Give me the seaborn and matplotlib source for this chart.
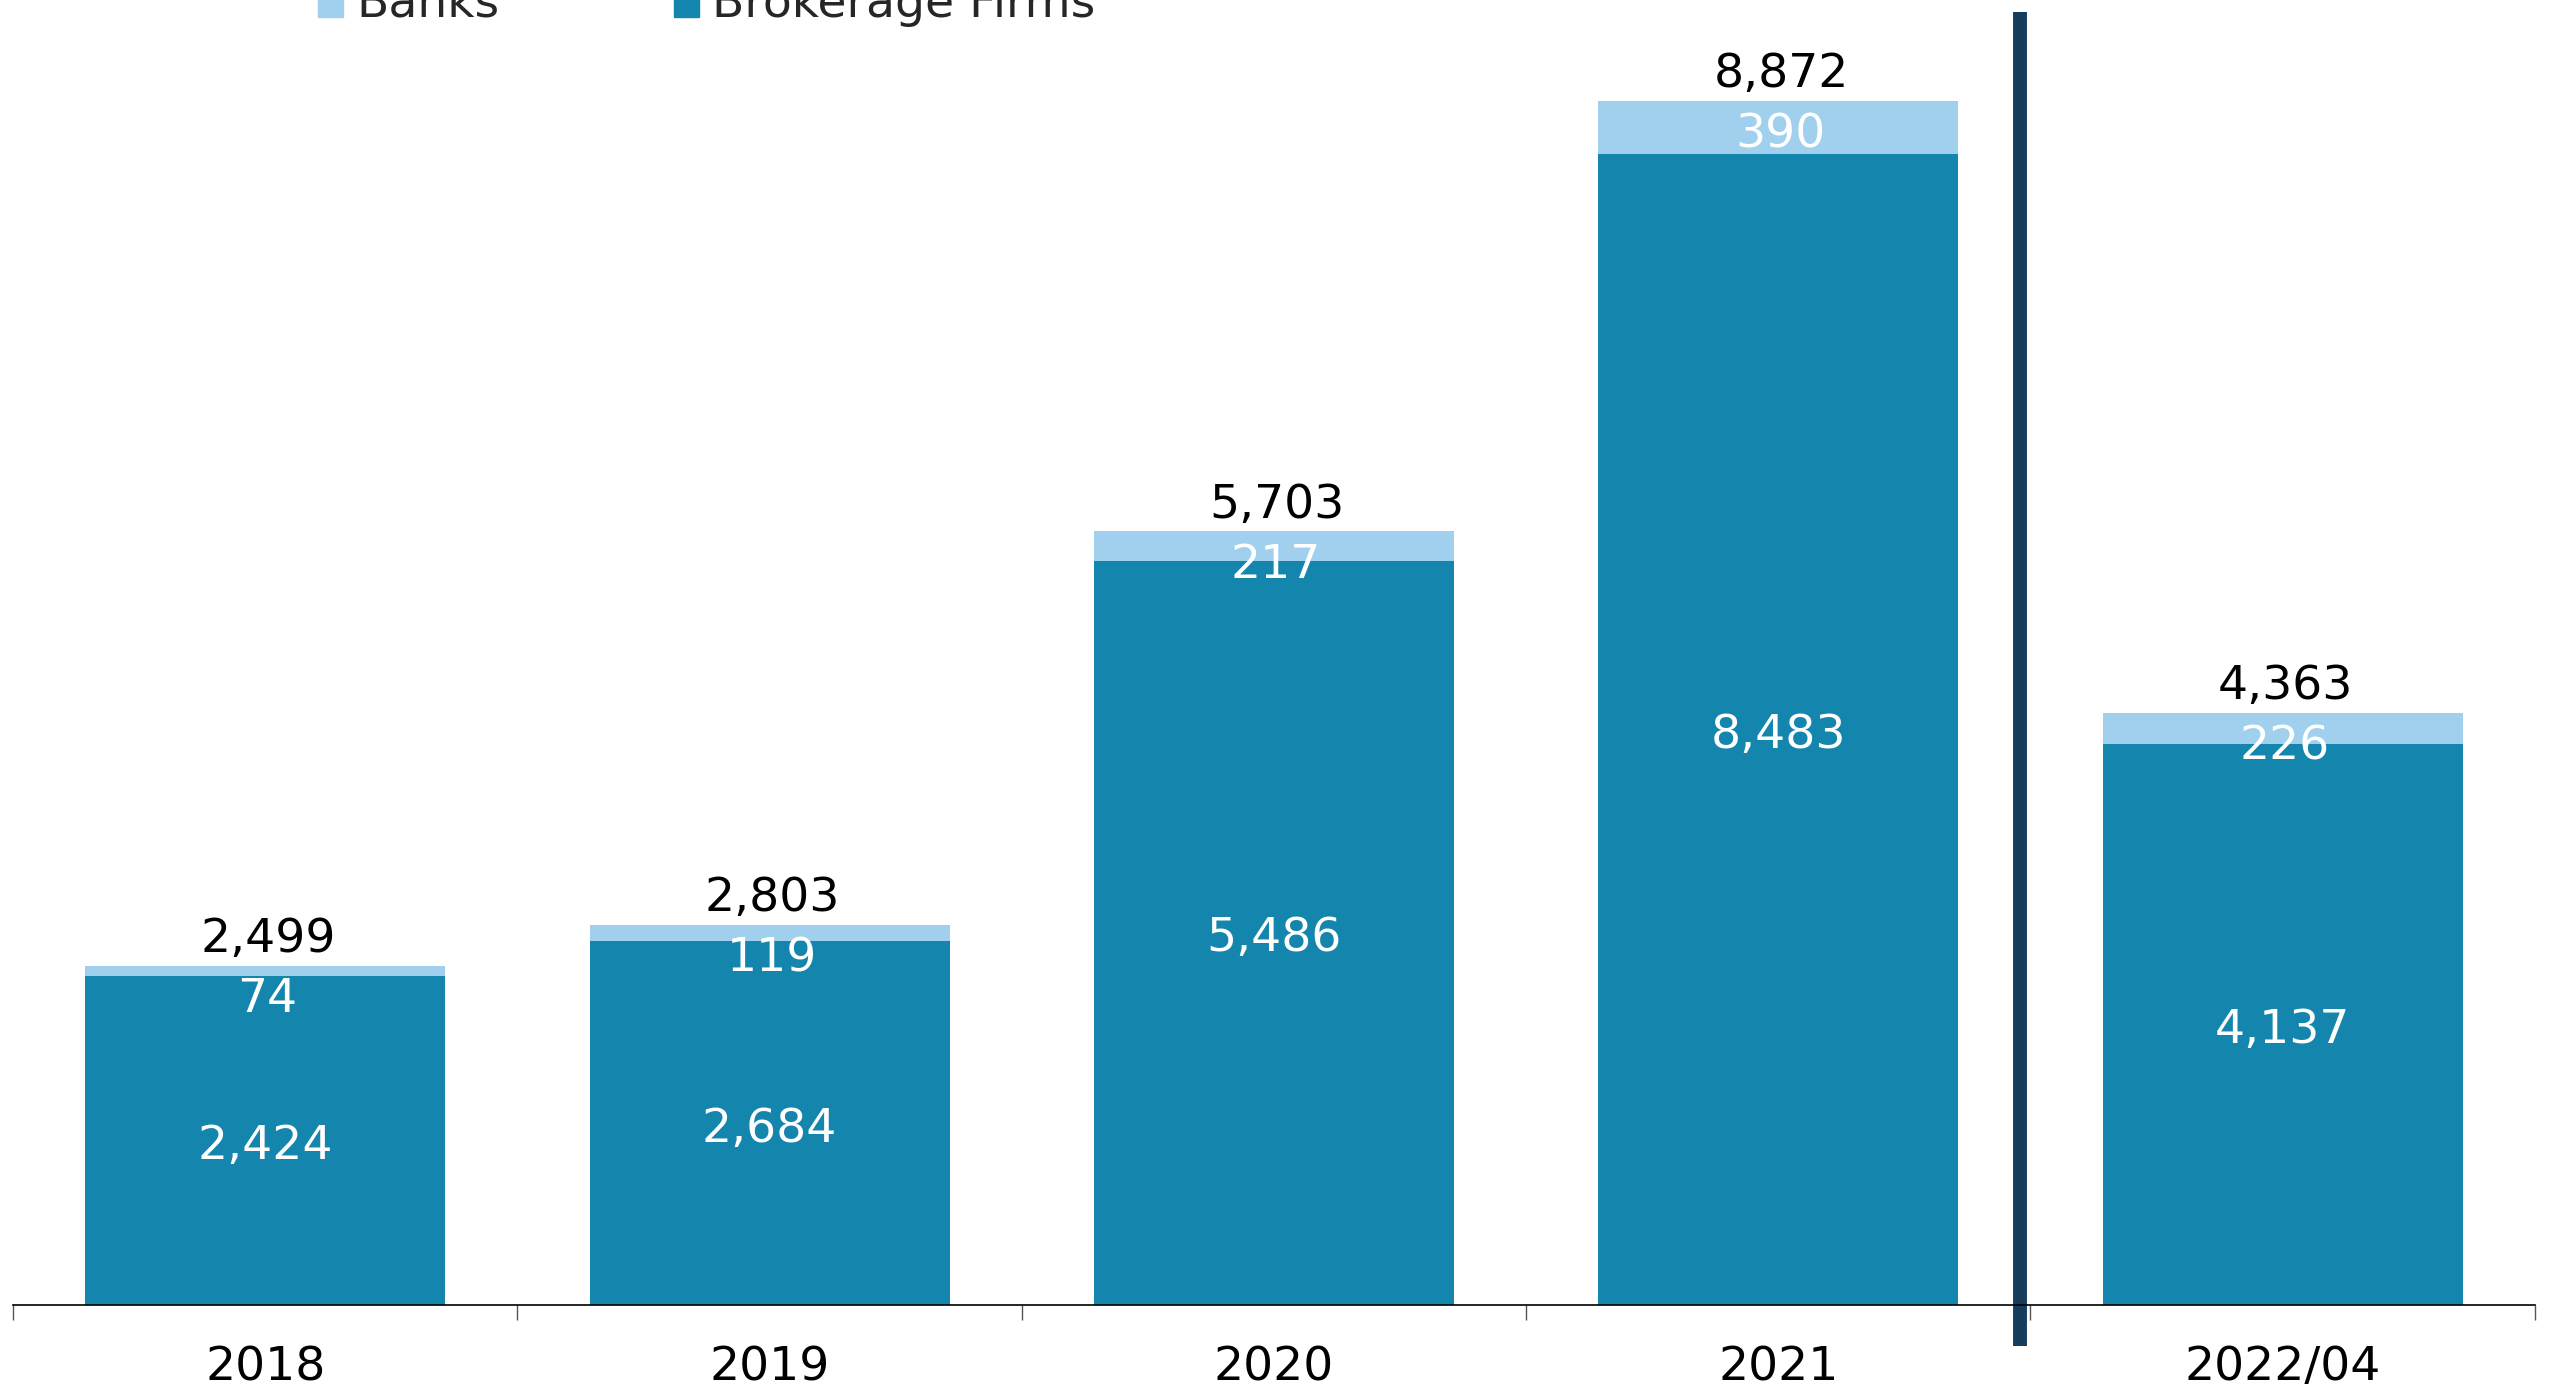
import matplotlib
matplotlib.use("Agg")
import matplotlib.pyplot as plt
import matplotlib.ticker as mticker
from matplotlib.patches import Patch
import seaborn as sns

years = ["2018", "2019", "2020", "2021", "2022/04"]
banks = [74, 119, 217, 390, 226]
brokerage = [2424, 2684, 5486, 8483, 4137]
totals = [2499, 2803, 5703, 8872, 4363]

BANK_COLOR = "#a0d0ee"
BROKER_COLOR = "#1485ad"
DIVIDER_COLOR = "#163d5c"

sns.set_style("white")
plt.rcParams["font.family"] = ["DejaVu Sans"]

fig = plt.figure(figsize=(25.56, 13.98), dpi=100)
ax = fig.add_axes([0.0051, 0.0664, 0.9866, 0.9336])

# stacked bars: totals in light colour, brokerage drawn over them
sns.barplot(x=years, y=totals, color=BANK_COLOR, saturation=1, width=0.714,
            linewidth=0, ax=ax)
sns.barplot(x=years, y=brokerage, color=BROKER_COLOR, saturation=1, width=0.714,
            linewidth=0, ax=ax)

ax.set_xlim(-0.5, 4.5)
ax.set_ylim(0, 9616)

for i in range(len(years)):
    ax.annotate(f"{totals[i]:,}", (i, totals[i]), xytext=(3, 26), textcoords="offset pixels",
                ha="center", va="center", fontsize=34, color="black")
    ax.annotate(f"{banks[i]:,}", (i, totals[i]), xytext=(2, -34), textcoords="offset pixels",
                ha="center", va="center", fontsize=34, color="white")
    ax.annotate(f"{brokerage[i]:,}", (i, brokerage[i] / 2), xytext=(0, -6),
                textcoords="offset pixels", ha="center", va="center", fontsize=34,
                color="white")

# divider between yearly and year-to-date figures
ax.axvline(3.48, ymin=-0.031, ymax=0.991, color=DIVIDER_COLOR, linewidth=10,
           solid_capstyle="butt", clip_on=False)

for side in ["left", "right", "top"]:
    ax.spines[side].set_visible(False)
ax.spines["bottom"].set_color("black")
ax.spines["bottom"].set_linewidth(1.2)

ax.set_yticks([])
ax.set_xlabel("")
ax.set_ylabel("")
ax.xaxis.set_minor_locator(mticker.FixedLocator([-0.5, 0.5, 1.5, 2.5, 3.5, 4.5]))
ax.tick_params(axis="x", which="major", length=0, pad=29, labelsize=34, labelcolor="black")
ax.tick_params(axis="x", which="minor", length=11, width=1, color="#555555", direction="out",
               bottom=True)

handles = [Patch(color=BANK_COLOR, label="Banks"), Patch(color=BROKER_COLOR, label="Brokerage Firms")]
fig.legend(handles=handles, loc="center left", bbox_to_anchor=(0.1243, 0.997), ncol=2,
           frameon=False, fontsize=34, handlelength=0.53, handleheight=0.7,
           handletextpad=0.28, columnspacing=3.7, borderpad=0, borderaxespad=0)

fig.savefig("out.png", dpi=100)
